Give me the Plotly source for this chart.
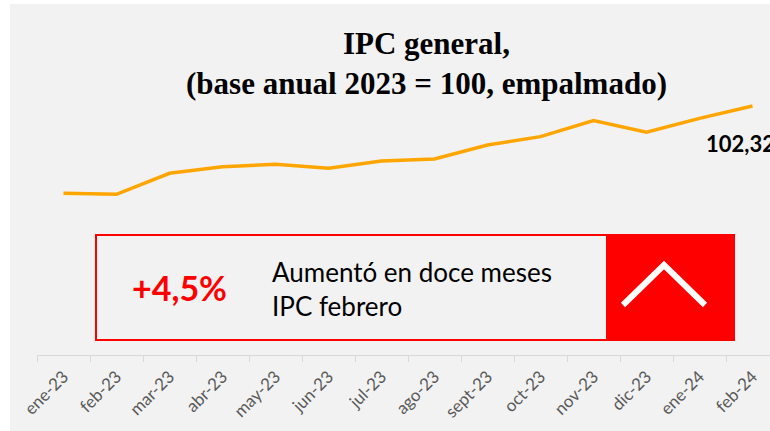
import plotly.graph_objects as go

# IPC general, base anual 2023 = 100 (empalmado)
meses = ['ene-23', 'feb-23', 'mar-23', 'abr-23', 'may-23', 'jun-23', 'jul-23',
         'ago-23', 'sept-23', 'oct-23', 'nov-23', 'dic-23', 'ene-24', 'feb-24']
ipc = [97.96, 97.91, 98.96, 99.29, 99.41, 99.21, 99.57,
       99.67, 100.37, 100.79, 101.59, 101.01, 101.70, 102.32]
ultimo_label = '102,32'
variacion = '+4,5%'
texto_caja = 'Aumentó en doce meses<br>IPC febrero'

W, H = 770, 431
ML, MR, MT, MB = 37, 0, 10, 76
pw = W - ML - MR
ph = H - MT - MB

# pixel -> paper coords
def px(x):
    return (x - ML) / pw

def py(y):
    return (H - MB - y) / ph

fig = go.Figure()
fig.add_trace(go.Scatter(x=meses, y=ipc, mode='lines',
                         line=dict(color='#FFA500', width=3.5),
                         hoverinfo='skip', showlegend=False))

shapes = [
    # white strips round the grey chart area
    dict(type='rect', xref='paper', yref='paper', x0=px(0), x1=px(10), y0=py(H), y1=py(0),
         fillcolor='white', line_width=0, layer='above'),
    dict(type='rect', xref='paper', yref='paper', x0=px(0), x1=px(W), y0=py(4), y1=py(0),
         fillcolor='white', line_width=0, layer='above'),
    # box
    dict(type='rect', xref='paper', yref='paper', x0=px(96), x1=px(607), y0=py(340), y1=py(235),
         line=dict(color='#FF0000', width=2), fillcolor='rgba(0,0,0,0)'),
    dict(type='rect', xref='paper', yref='paper', x0=px(607), x1=px(735), y0=py(341), y1=py(234),
         line_width=0, fillcolor='#FF0000'),
    dict(type='path', xref='paper', yref='paper',
         path='M %f %f L %f %f L %f %f' % (px(623), py(305), px(664), py(265), px(705), py(305)),
         line=dict(color='white', width=6)),
]

annotations = [
    dict(xref='paper', yref='paper', x=px(426), y=py(63), xanchor='center', yanchor='middle',
         text='<b>IPC general,<br>(base anual 2023 = 100, empalmado)</b>', showarrow=False,
         font=dict(family='Liberation Serif', size=31, color='black')),
    dict(xref='x', yref='y', x=meses[-1], y=ipc[-1], xanchor='left', yanchor='middle',
         xshift=-49, yshift=-37, text='<b>' + ultimo_label + '</b>', showarrow=False,
         font=dict(family='Lato', size=22, color='black')),
    dict(xref='paper', yref='paper', x=px(179), y=py(287), xanchor='center', yanchor='middle',
         text='<b>' + variacion + '</b>', showarrow=False,
         font=dict(family='Lato', size=34, color='#FF0000')),
    dict(xref='paper', yref='paper', x=px(270), y=py(289), xanchor='left', yanchor='middle',
         align='left', text=texto_caja, showarrow=False,
         font=dict(family='Lato', size=26, color='black')),
]

# y range chosen so that 102.32 sits at y=106px and 97.91 at y=194px
b = (ipc[-1] - ipc[1]) / (194.3 - 106)
y_top = ipc[-1] + b * (106 - MT)
y_bot = ipc[-1] - b * (H - MB - 106)

fig.update_layout(
    width=W, height=H,
    margin=dict(l=ML, r=MR, t=MT, b=MB, pad=0),
    paper_bgcolor='#F2F2F2', plot_bgcolor='#F2F2F2',
    shapes=shapes, annotations=annotations,
    xaxis=dict(type='category', range=[-0.5, 13.5 - 9 / 53], showgrid=False,
               showline=True, linecolor='#D9D9D9', linewidth=1,
               ticks='outside', tickson='boundaries', ticklen=6, tickcolor='#D9D9D9',
               ticklabelstandoff=4,
               tickangle=-45, tickfont=dict(family='Lato', size=17, color='#595959')),
    yaxis=dict(range=[y_bot, y_top], visible=False),
)

# page has a default 8px body margin; remove it so the figure sits at 0,0
fig.write_html("out.html", config={'displayModeBar': False},
               post_script="document.body.style.margin='0';document.body.style.overflow='hidden';")
